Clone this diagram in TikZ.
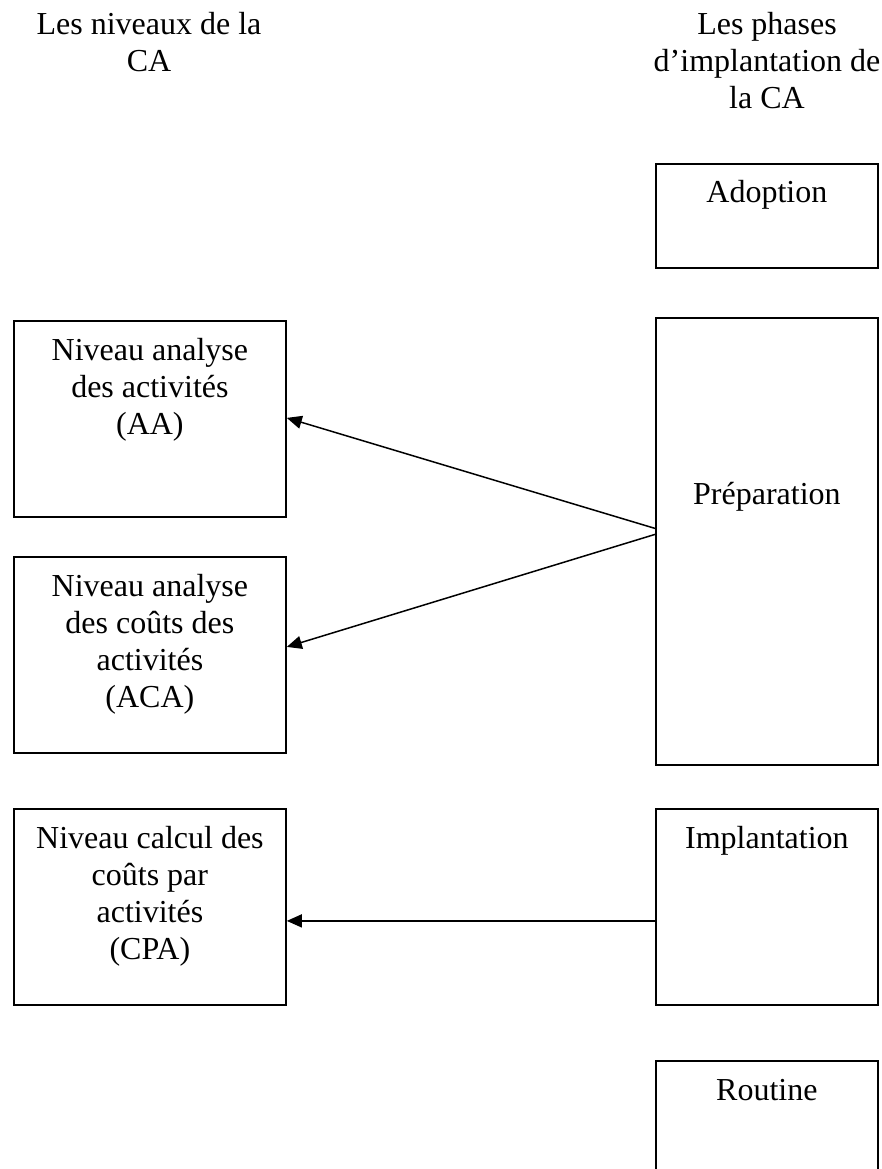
\documentclass[tikz,border=0pt]{standalone}
\usepackage{fontspec}
\setmainfont{Liberation Serif}
\usetikzlibrary{arrows.meta,calc}
\newcommand{\mlines}[1]{\begin{tabular}[t]{@{}c@{}}#1\end{tabular}}
\begin{document}
\begin{tikzpicture}[x=1pt,y=-1pt,
  box/.style={draw,line width=1.8pt,inner sep=0pt,anchor=north west},
  lbox/.style={box,minimum width=272pt},
  rbox/.style={box,minimum width=222pt},
  txt/.style={font=\fontsize{32}{37}\selectfont,inner sep=0pt,anchor=base},
  arr/.style={line width=1.5pt,-{Triangle[length=15pt,width=13pt]}}]
\clip (0,0) rectangle (882,1169);
% titles
\node[txt] (tl) at (149,35) {\mlines{Les niveaux de la\\CA}};
\node[txt] (tr) at (767,35) {\mlines{Les phases\\d’implantation de\\la CA}};
% left boxes
\node[lbox,minimum height=196pt] (b1) at (13,320) {};
\node[lbox,minimum height=196pt] (b2) at (13,556) {};
\node[lbox,minimum height=196pt] (b3) at (13,808) {};
\node[txt] (t1) at ($(b1.north)+(0,40)$) {\mlines{Niveau analyse\\des activités\\(AA)}};
\node[txt] (t2) at ($(b2.north)+(0,40)$) {\mlines{Niveau analyse\\des coûts des\\activités\\(ACA)}};
\node[txt] (t3) at ($(b3.north)+(0,40)$) {\mlines{Niveau calcul des\\coûts par\\activités\\(CPA)}};
% right boxes
\node[rbox,minimum height=104pt] (adop) at (655,163) {};
\node[rbox,minimum height=447pt] (prep) at (655,317) {};
\node[rbox,minimum height=196pt] (impl) at (655,808) {};
\node[rbox,minimum height=140pt] (rout) at (655,1060) {};
\node[txt] (ta) at ($(adop.north)+(0,40)$) {Adoption};
\node[txt] (tp) at ($(prep.north)+(0,187)$) {Préparation};
\node[txt] (ti) at ($(impl.north)+(0,40)$) {Implantation};
\node[txt] (to) at ($(rout.north)+(0,40)$) {Routine};
% arrows
\coordinate (s1) at ($(prep.west)+(0,-13)$);
\coordinate (s2) at ($(prep.west)+(0,-7)$);
\coordinate (s3) at ($(impl.west)+(0,14)$);
\draw[arr] (s1) -- ($(b1.east)+(0,-1)$);
\draw[arr] (s2) -- ($(b2.east)+(0,-8)$);
\draw[arr] (s3) -- (b3.east |- s3);
\end{tikzpicture}
\end{document}
